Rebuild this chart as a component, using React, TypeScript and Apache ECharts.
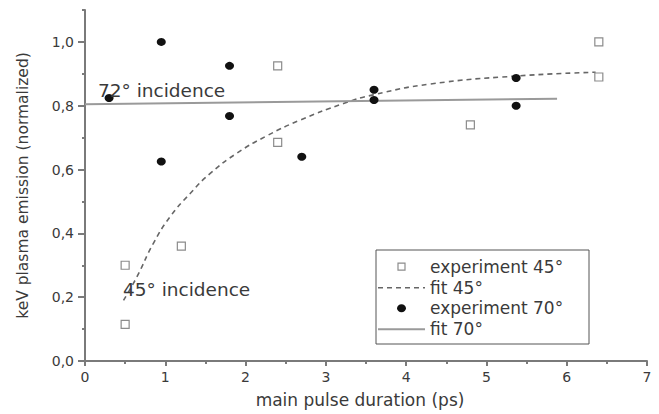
import React, { useEffect, useRef } from "react";
import * as echarts from "echarts";

const exp45X = [0.5, 0.5, 1.2, 2.4, 2.4, 4.8, 6.4, 6.4];
const exp45Y = [0.3, 0.115, 0.36, 0.925, 0.685, 0.74, 1.0, 0.89];

const exp70X = [0.3, 0.95, 0.95, 1.8, 1.8, 2.7, 3.6, 3.6, 5.37, 5.37];
const exp70Y = [0.824, 1.0, 0.625, 0.925, 0.768, 0.64, 0.85, 0.818, 0.887, 0.8];

const fit45X = [0.48, 0.645, 0.85, 1.06, 1.31, 1.56, 1.89, 2.26, 2.68, 3.22, 3.59, 4.3, 5.37, 6.36];
const fit45Y = [0.19, 0.263, 0.368, 0.452, 0.525, 0.588, 0.651, 0.705, 0.755, 0.807, 0.834, 0.868, 0.893, 0.905];

const fit70X = [0, 5.88];
const fit70Y = [0.805, 0.822];

const yMajorTicks = [0, 0.2, 0.4, 0.6, 0.8, 1.0];
const yMinorTicks = [0.1, 0.3, 0.5, 0.7, 0.9, 1.1];

const seriesNames = ["experiment 45°", "fit 45°", "experiment 70°", "fit 70°"];
const annotations = ["72° incidence", "45° incidence"];

const FONT = "DejaVu Sans";
const AXIS_COLOR = "#7a7a7a";
const TEXT_COLOR = "#3a3a3a";
const SQUARE_BORDER = "#8c8c8c";
const DOT_COLOR = "#111111";
const FIT45_COLOR = "#666666";
const FIT70_COLOR = "#9a9a9a";
const FIT45_DASH = [5, 4];

const zip = (xs: number[], ys: number[]) => xs.map((x, i) => [x, ys[i]]);

export default function App() {
  const ref = useRef<HTMLDivElement>(null);

  useEffect(() => {
    if (!ref.current) return;
    const chart = echarts.init(ref.current, null, { renderer: "svg" });
    const fmt = (v: number) => v.toFixed(1).replace(".", ",");

    // legend drawn as graphic elements
    const LX = 376;
    const LY = 250;
    const rowY = [266.7, 287.7, 308.3, 329.3];
    const iconX1 = 378;
    const iconX2 = 425;
    const iconCX = 401.5;
    const textX = 430;
    const legendText = (i: number) => ({
      type: "text",
      x: textX,
      y: rowY[i],
      z: 12,
      style: { text: seriesNames[i], fontFamily: FONT, fontSize: 17, fill: TEXT_COLOR, align: "left", verticalAlign: "middle" },
    });

    chart.setOption({
      animation: false,
      backgroundColor: "#ffffff",
      grid: { left: 85, right: 12, top: 10, bottom: 53, containLabel: false },
      xAxis: {
        type: "value",
        min: 0,
        max: 7,
        interval: 1,
        name: "main pulse duration (ps)",
        nameLocation: "middle",
        nameGap: 30,
        nameTextStyle: { fontFamily: FONT, fontSize: 17, color: TEXT_COLOR, padding: [0, 12, 0, 0] },
        axisLine: { show: true, lineStyle: { color: AXIS_COLOR, width: 2 } },
        axisTick: { show: true, inside: false, length: 5, lineStyle: { color: AXIS_COLOR, width: 2 } },
        minorTick: { show: true, splitNumber: 2, length: 3, lineStyle: { color: AXIS_COLOR, width: 2 } },
        minorSplitLine: { show: false },
        splitLine: { show: false },
        axisLabel: { fontFamily: FONT, fontSize: 14, color: TEXT_COLOR, margin: 9 },
      },
      yAxis: [
        {
          type: "value",
          min: 0,
          max: 1.1,
          interval: 0.1,
          name: "keV plasma emission (normalized)",
          nameLocation: "middle",
          nameRotate: 90,
          nameGap: 54,
          nameTextStyle: { fontFamily: FONT, fontSize: 15.5, color: TEXT_COLOR },
          axisLine: { show: true, lineStyle: { color: AXIS_COLOR, width: 2 } },
          axisTick: { show: true, inside: false, length: 7, customValues: yMajorTicks, lineStyle: { color: AXIS_COLOR, width: 2 } },
          axisLabel: {
            fontFamily: FONT,
            fontSize: 14,
            color: TEXT_COLOR,
            margin: 11,
            customValues: yMajorTicks,
            formatter: (v: number) => fmt(v),
          },
          splitLine: { show: false },
        },
        {
          type: "value",
          min: 0,
          max: 1.1,
          interval: 0.1,
          position: "left",
          axisLine: { show: false },
          axisTick: { show: true, inside: false, length: 3, customValues: yMinorTicks, lineStyle: { color: AXIS_COLOR, width: 2 } },
          axisLabel: { show: false },
          splitLine: { show: false },
        },
      ],
      graphic: [
        {
          type: "text",
          x: 98,
          y: 90,
          z: 10,
          style: { text: annotations[0], fontFamily: FONT, fontSize: 18.5, fill: TEXT_COLOR, align: "left", verticalAlign: "middle" },
        },
        {
          type: "text",
          x: 123,
          y: 289,
          z: 10,
          style: { text: annotations[1], fontFamily: FONT, fontSize: 18.5, fill: TEXT_COLOR, align: "left", verticalAlign: "middle" },
        },
        {
          type: "rect",
          z: 11,
          shape: { x: LX, y: LY, width: 213, height: 94 },
          style: { fill: "#ffffff", stroke: "#555555", lineWidth: 1 },
        },
        {
          type: "rect",
          z: 12,
          shape: { x: iconCX - 3.5, y: rowY[0] - 3.5, width: 7, height: 7 },
          style: { fill: "#ffffff", stroke: SQUARE_BORDER, lineWidth: 1.2 },
        },
        legendText(0),
        {
          type: "line",
          z: 12,
          shape: { x1: iconX1, y1: rowY[1], x2: iconX2, y2: rowY[1] },
          style: { stroke: FIT45_COLOR, lineWidth: 1.6, lineDash: FIT45_DASH },
        },
        legendText(1),
        {
          type: "ellipse",
          z: 12,
          shape: { cx: iconCX, cy: rowY[2], rx: 4.5, ry: 4 },
          style: { fill: DOT_COLOR },
        },
        legendText(2),
        {
          type: "line",
          z: 12,
          shape: { x1: iconX1, y1: rowY[3], x2: iconX2, y2: rowY[3] },
          style: { stroke: FIT70_COLOR, lineWidth: 2 },
        },
        legendText(3),
      ],
      series: [
        {
          name: seriesNames[0],
          type: "scatter",
          data: zip(exp45X, exp45Y),
          symbol: "rect",
          symbolSize: 8,
          itemStyle: { color: "#ffffff", borderColor: SQUARE_BORDER, borderWidth: 1.2, opacity: 1 },
          z: 3,
        },
        {
          name: seriesNames[1],
          type: "line",
          data: zip(fit45X, fit45Y),
          smooth: true,
          symbol: "none",
          lineStyle: { color: FIT45_COLOR, width: 1.6, type: FIT45_DASH },
          itemStyle: { color: FIT45_COLOR },
          z: 2,
        },
        {
          name: seriesNames[2],
          type: "scatter",
          data: zip(exp70X, exp70Y),
          symbol: "circle",
          symbolSize: [9, 8],
          itemStyle: { color: DOT_COLOR, opacity: 1 },
          z: 3,
        },
        {
          name: seriesNames[3],
          type: "line",
          data: zip(fit70X, fit70Y),
          symbol: "none",
          lineStyle: { color: FIT70_COLOR, width: 2 },
          itemStyle: { color: FIT70_COLOR },
          z: 2,
        },
      ],
    });
    return () => chart.dispose();
  }, []);

  return <div ref={ref} style={{ width: 659, height: 414, position: "absolute", left: 0, top: 0 }} />;
}
